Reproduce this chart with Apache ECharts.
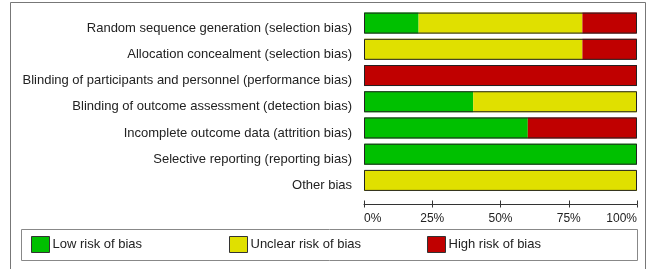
<!DOCTYPE html>
<html>
<head>
<meta charset="utf-8">
<script src="https://cdn.jsdelivr.net/npm/echarts@6/dist/echarts.min.js"></script>
<style>
  html, body { margin: 0; padding: 0; background: #fff; }
  #chart { width: 654px; height: 269px; }
</style>
</head>
<body>
<div id="chart"></div>
<script>
const domains = [
  'Random sequence generation (selection bias)',
  'Allocation concealment (selection bias)',
  'Blinding of participants and personnel (performance bias)',
  'Blinding of outcome assessment (detection bias)',
  'Incomplete outcome data (attrition bias)',
  'Selective reporting (reporting bias)',
  'Other bias'
]
const lowRisk = [20, 0, 0, 40, 60, 100, 0]
const unclearRisk = [60, 80, 0, 60, 0, 0, 100]
const highRisk = [20, 20, 100, 0, 40, 0, 0]
const percentTicks = [0, 25, 50, 75, 100]
const riskNames = ['Low risk of bias', 'Unclear risk of bias', 'High risk of bias']

const totals = domains.map((d, i) => lowRisk[i] + unclearRisk[i] + highRisk[i])

const chart = echarts.init(document.getElementById('chart'))
const font = 'Liberation Sans, Arial, sans-serif'

// one legend per item so each sits at its own fixed spot in the box
const legendLeft = [31, 229, 427]
const legends = riskNames.map((name, i) => ({
  data: [name],
  left: legendLeft[i],
  top: 236,
  padding: 0,
  itemWidth: 18,
  itemHeight: 16,
  itemGap: 0,
  icon: 'rect',
  selectedMode: false,
  itemStyle: { borderColor: '#333', borderWidth: 1 },
  textStyle: { fontSize: 13, color: '#222', fontFamily: font, padding: [0, 0, 0, -2] }
}))

const option = {
  animation: false,
  textStyle: { fontFamily: font },
  graphic: [
    {
      type: 'rect',
      shape: { x: 10.5, y: 2.5, width: 635, height: 275 },
      style: { fill: null, stroke: '#777', lineWidth: 1 },
      z: -1
    },
    {
      type: 'rect',
      shape: { x: 21.5, y: 229.5, width: 616, height: 31 },
      style: { fill: '#fff', stroke: '#888', lineWidth: 1 },
      z: -1
    }
  ],
  grid: { left: 364, right: 17, top: 10, bottom: 75.5 },
  legend: legends,
  xAxis: [
    {
      type: 'value',
      min: 0,
      max: 100,
      interval: 25,
      offset: 11,
      splitLine: { show: false },
      axisLine: { show: true, lineStyle: { color: '#333', width: 1 } },
      axisTick: { show: true, length: 3, lineStyle: { color: '#333' } },
      axisLabel: {
        formatter: v => percentTicks.includes(v) ? v + '%' : '',
        color: '#222',
        fontSize: 12,
        margin: 8,
        alignMinLabel: 'left',
        alignMaxLabel: 'right'
      }
    },
    {
      type: 'value',
      min: 0,
      max: 100,
      interval: 25,
      offset: 11,
      position: 'bottom',
      splitLine: { show: false },
      axisLine: { show: false },
      axisTick: { show: true, inside: true, length: 4, lineStyle: { color: '#333' } },
      axisLabel: { show: false }
    }
  ],
  yAxis: {
    type: 'category',
    data: domains,
    inverse: true,
    axisLine: { show: false },
    axisTick: { show: false },
    axisLabel: {
      color: '#222',
      fontSize: 13,
      margin: 12,
      verticalAlign: 'top',
      lineHeight: 10
    }
  },
  series: [
    {
      name: riskNames[0],
      type: 'bar',
      stack: 'risk',
      barWidth: 21,
      data: lowRisk,
      itemStyle: { color: '#00c000' }
    },
    {
      name: riskNames[1],
      type: 'bar',
      stack: 'risk',
      barWidth: 21,
      data: unclearRisk,
      itemStyle: { color: '#e0e000' }
    },
    {
      name: riskNames[2],
      type: 'bar',
      stack: 'risk',
      barWidth: 21,
      data: highRisk,
      itemStyle: { color: '#c00000' }
    },
    {
      name: 'outline',
      type: 'bar',
      barWidth: 21,
      barGap: '-100%',
      data: totals,
      silent: true,
      itemStyle: { color: 'rgba(0,0,0,0)', borderColor: '#222', borderWidth: 1 },
      z: 5
    }
  ]
}

chart.setOption(option)
</script>
</body>
</html>
